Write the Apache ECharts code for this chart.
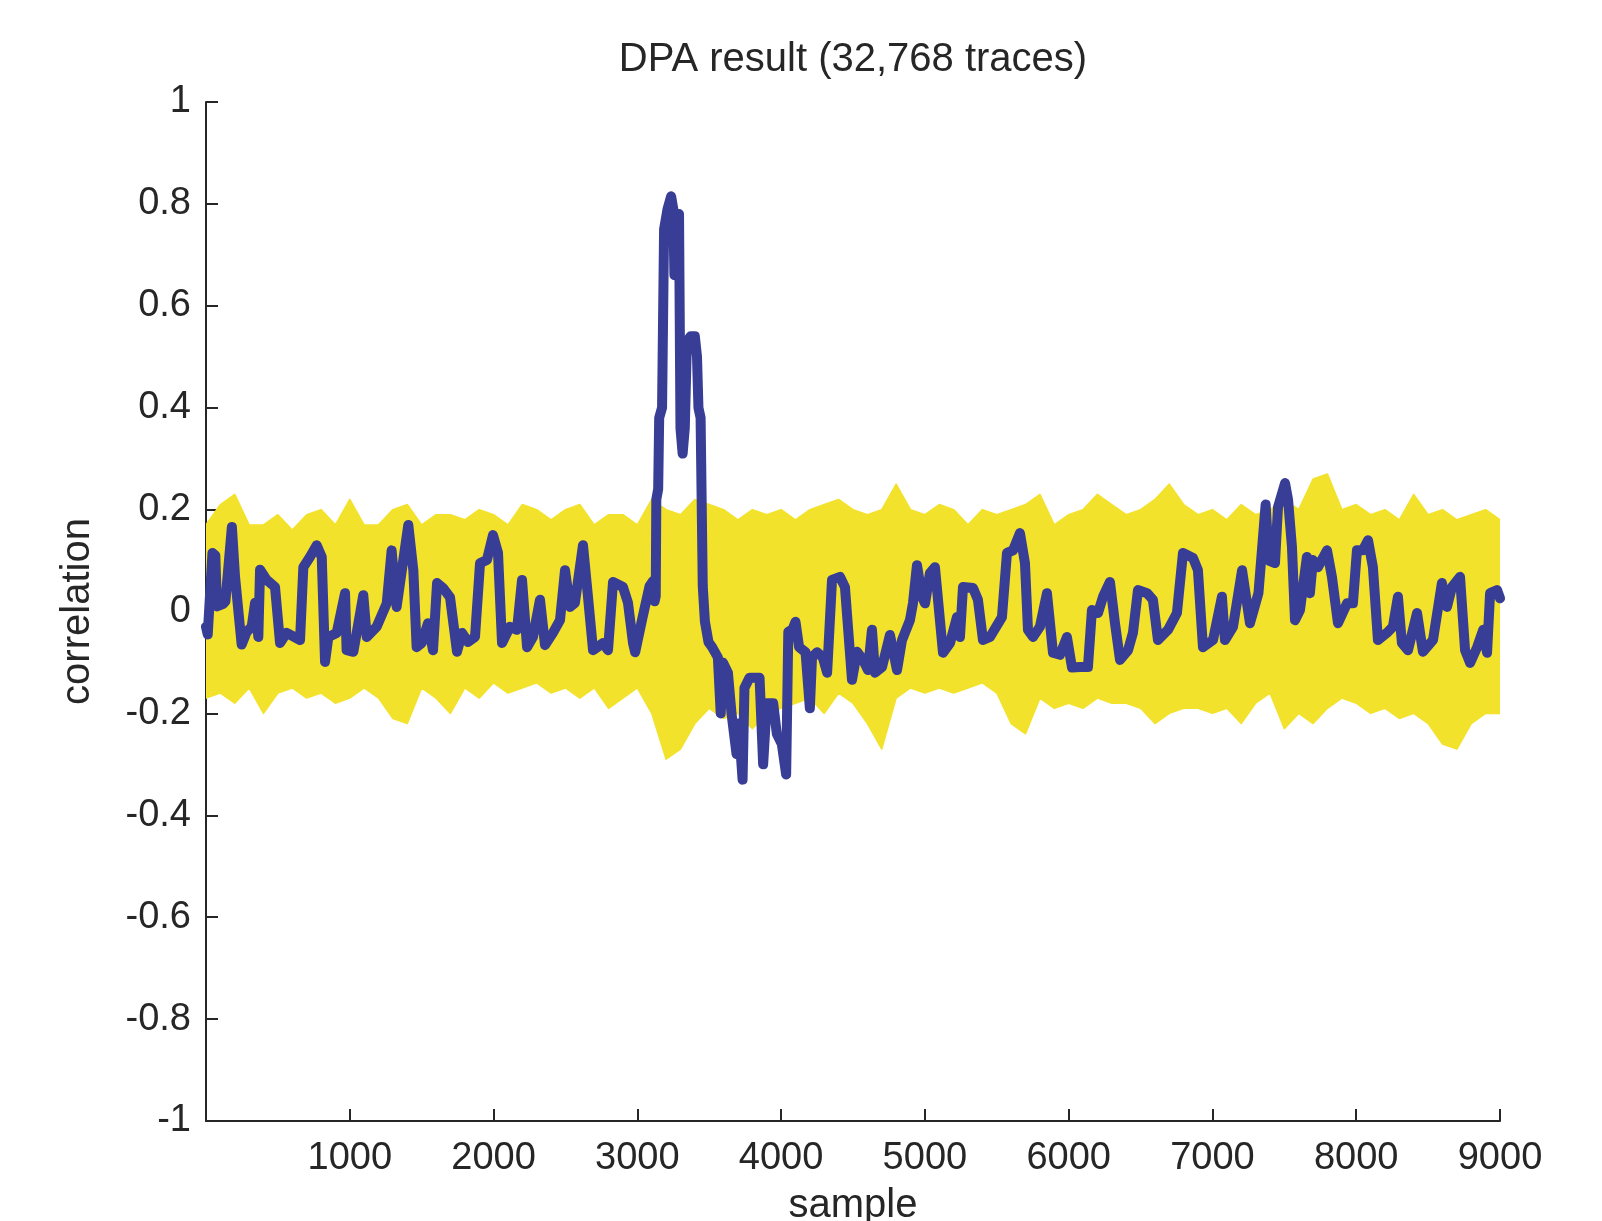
<!DOCTYPE html>
<html lang="en">
<head>
    <meta charset="utf-8">
    <title>DPA result</title>
    <script src="https://cdn.jsdelivr.net/npm/echarts@6/dist/echarts.min.js"></script>
    <style>
        html, body { margin: 0; padding: 0; background: #fff; }
        #chart { width: 1602px; height: 1221px; }
    </style>
</head>
<body>
<div id="chart"></div>
<script>
    // envelope of the yellow (wrong key) traces, read every 100 samples
    var bandSample = [0,100,200,300,400,500,600,700,800,900,1000,1100,1200,1300,1400,1500,1600,1700,1800,1900,
        2000,2100,2200,2300,2400,2500,2600,2700,2800,2900,3000,3100,3200,3300,3400,3500,3600,3700,3800,3900,
        4000,4100,4200,4300,4400,4500,4600,4700,4800,4900,5000,5100,5200,5300,5400,5500,5600,5700,5800,5900,
        6000,6100,6200,6300,6400,6500,6600,6700,6800,6900,7000,7100,7200,7300,7400,7500,7600,7700,7800,7900,
        8000,8100,8200,8300,8400,8500,8600,8700,8800,8900,9000];
    var bandUpper = [0.17,0.21,0.23,0.17,0.17,0.19,0.16,0.19,0.20,0.17,0.22,0.17,0.17,0.20,0.21,0.17,0.19,0.19,0.18,0.20,
        0.19,0.17,0.21,0.20,0.18,0.20,0.21,0.17,0.19,0.19,0.17,0.22,0.20,0.19,0.22,0.21,0.20,0.18,0.20,0.19,
        0.20,0.18,0.20,0.21,0.22,0.20,0.19,0.20,0.25,0.20,0.19,0.21,0.20,0.17,0.20,0.19,0.20,0.21,0.23,0.17,
        0.19,0.20,0.23,0.21,0.19,0.20,0.22,0.25,0.21,0.19,0.20,0.18,0.21,0.19,0.20,0.22,0.20,0.26,0.27,0.20,
        0.21,0.19,0.20,0.18,0.23,0.19,0.20,0.18,0.19,0.20,0.18];
    var bandLower = [-0.17,-0.16,-0.18,-0.15,-0.20,-0.16,-0.15,-0.17,-0.16,-0.18,-0.17,-0.15,-0.17,-0.21,-0.22,-0.15,-0.17,-0.20,-0.15,-0.17,
        -0.14,-0.16,-0.15,-0.14,-0.16,-0.15,-0.17,-0.15,-0.19,-0.17,-0.15,-0.20,-0.29,-0.27,-0.22,-0.19,-0.21,-0.20,-0.23,-0.20,
        -0.19,-0.18,-0.17,-0.20,-0.16,-0.18,-0.22,-0.27,-0.17,-0.15,-0.16,-0.15,-0.16,-0.15,-0.14,-0.16,-0.22,-0.24,-0.17,-0.19,
        -0.18,-0.19,-0.17,-0.18,-0.18,-0.19,-0.22,-0.20,-0.19,-0.19,-0.20,-0.19,-0.22,-0.18,-0.16,-0.23,-0.20,-0.22,-0.19,-0.17,
        -0.18,-0.20,-0.19,-0.21,-0.20,-0.22,-0.26,-0.27,-0.22,-0.20,-0.20];

    // correct key guess (blue)
    var keySample = [0,12,45,65,76,120,135,180,202,248,283,318,341,364,376,422,480,515,561,654,677,723,770,805,828,851,909,967,978,
        1025,1094,1118,1187,1257,1291,1326,1407,1442,1465,1500,1544,1579,1607,1649,1697,1746,1781,1822,1871,1906,1954,1996,
        2031,2059,2114,2163,2198,2233,2274,2323,2358,2413,2462,2497,2532,2566,2622,2657,2692,2761,2796,2831,2900,2935,2970,2985,
        3032,3085,3110,3120,3128,3132,3145,3152,3172,3186,3210,3235,3250,3258,3270,3290,3300,3315,3330,3345,3370,3400,3415,3425,
        3440,3455,3470,3495,3520,3560,3580,3595,3630,3655,3690,3705,3732,3745,3780,3850,3875,3900,3945,3970,4005,4035,4050,4080,
        4100,4125,4170,4200,4215,4250,4290,4320,4354,4410,4444,4493,4528,4570,4604,4632,4653,4702,4757,4806,4841,4896,4917,4945,
        4980,5001,5035,5070,5126,5175,5223,5244,5265,5335,5369,5404,5453,5536,5571,5613,5661,5696,5717,5752,5800,5849,5891,5940,
        5988,6023,6079,6134,6162,6204,6239,6287,6322,6357,6413,6447,6482,6545,6586,6621,6691,6753,6795,6865,6899,6934,7004,7066,
        7087,7143,7206,7261,7320,7370,7392,7435,7456,7505,7526,7553,7574,7609,7657,7678,7699,7734,7797,7831,7873,7936,7977,8005,
        8046,8082,8116,8151,8213,8255,8290,8318,8360,8423,8464,8534,8596,8631,8666,8722,8757,8792,8841,8883,8910,8931,8980,9000];
    var keyCorr = [-0.03,-0.045,0.115,0.11,0.01,0.015,0.02,0.166,0.068,-0.065,-0.04,-0.03,0.017,-0.05,0.082,0.062,0.048,-0.062,-0.042,-0.056,0.087,0.107,0.13,0.107,-0.099,-0.05,-0.042,0.036,-0.076,
        -0.079,0.032,-0.05,-0.03,0.016,0.12,0.009,0.17,0.081,-0.07,-0.062,-0.023,-0.076,0.056,0.046,0.028,-0.079,-0.042,-0.06,-0.05,0.095,0.101,0.15,
        0.115,-0.062,-0.03,-0.036,0.062,-0.07,-0.05,0.023,-0.066,-0.042,-0.017,0.081,0.009,0.017,0.13,0.028,-0.076,-0.062,-0.076,0.058,0.048,0.017,-0.062,-0.08,
        -0.017,0.05,0.06,0.02,0.03,0.22,0.24,0.38,0.4,0.75,0.79,0.815,0.79,0.66,0.78,0.78,0.36,0.31,0.36,0.53,0.54,0.54,0.5,0.4,
        0.38,0.05,-0.02,-0.06,-0.07,-0.09,-0.2,-0.1,-0.12,-0.2,-0.28,-0.22,-0.33,-0.15,-0.13,-0.13,-0.3,-0.18,-0.18,-0.24,-0.26,-0.32,-0.04,-0.035,
        -0.02,-0.07,-0.08,-0.19,-0.09,-0.08,-0.09,-0.12,0.062,0.068,0.048,-0.134,-0.079,-0.095,-0.115,-0.036,-0.12,-0.109,-0.046,-0.115,-0.056,-0.017,0.016,0.091,
        0.029,0.016,0.075,0.087,-0.081,-0.062,-0.011,-0.05,0.048,0.046,0.023,-0.056,-0.05,-0.011,0.115,0.12,0.154,0.095,-0.036,-0.05,-0.03,0.036,-0.081,-0.085,
        -0.05,-0.11,-0.109,-0.109,0.003,-0.003,0.029,0.058,-0.023,-0.095,-0.076,-0.042,0.042,0.036,0.023,-0.056,-0.036,-0.003,0.115,0.105,0.081,-0.07,-0.056,0.029,
        -0.056,-0.03,0.081,-0.023,0.036,0.21,0.1,0.095,0.205,0.252,0.219,0.127,-0.017,0.003,0.107,0.036,0.101,0.087,0.12,0.068,-0.023,0.016,0.016,0.12,
        0.12,0.14,0.087,-0.056,-0.042,-0.03,0.029,-0.062,-0.076,-0.003,-0.079,-0.056,0.056,0.009,0.048,0.068,-0.076,-0.101,-0.07,-0.036,-0.081,0.036,0.042,0.026];

    var xTicks = [1000, 2000, 3000, 4000, 5000, 6000, 7000, 8000, 9000];

    var font = 'Liberation Sans, Arial, Helvetica, sans-serif';
    var ink = '#262626';
    var yellow = '#f3e22c';
    var blue = '#383d96';

    var keyData = keySample.map(function (s, i) { return [s, keyCorr[i]]; });

    // yellow band: polygon upper edge forward, lower edge back
    function renderBand(params, api) {
        var pts = [];
        for (var i = 0; i < bandSample.length; i++) {
            pts.push(api.coord([bandSample[i], bandUpper[i]]));
        }
        for (var j = bandSample.length - 1; j >= 0; j--) {
            pts.push(api.coord([bandSample[j], bandLower[j]]));
        }
        return {
            type: 'polygon',
            shape: { points: pts },
            style: { fill: yellow, stroke: yellow, lineWidth: 1.5, lineJoin: 'round' }
        };
    }

    var chart = echarts.init(document.getElementById('chart'));
    chart.setOption({
        animation: false,
        title: {
            text: 'DPA result (32,768 traces)',
            left: 853,
            top: 40,
            padding: 0,
            textAlign: 'center',
            textStyle: { fontFamily: font, fontSize: 40, fontWeight: 'normal', color: ink }
        },
        grid: { left: 206, right: 102, top: 102, bottom: 100, outerBoundsMode: 'none' },
        xAxis: {
            type: 'value',
            min: 0,
            max: 9000,
            interval: 1000,
            name: 'sample',
            nameLocation: 'middle',
            nameGap: 65,
            nameTextStyle: { fontFamily: font, fontSize: 40, color: ink },
            axisLine: { onZero: false, lineStyle: { color: ink, width: 2 } },
            axisTick: { inside: true, length: 12, lineStyle: { color: ink, width: 2 } },
            axisLabel: {
                margin: 19,
                fontFamily: font, fontSize: 38, color: ink,
                formatter: function (v) { return xTicks.indexOf(v) >= 0 ? String(v) : ''; }
            },
            splitLine: { show: false }
        },
        yAxis: {
            type: 'value',
            min: -1,
            max: 1,
            interval: 0.2,
            name: 'correlation',
            nameLocation: 'middle',
            nameRotate: 90,
            nameGap: 108,
            nameTextStyle: { fontFamily: font, fontSize: 40, color: ink },
            axisLine: { show: true, onZero: false, lineStyle: { color: ink, width: 2 } },
            axisTick: { show: true, inside: true, length: 12, lineStyle: { color: ink, width: 2 } },
            axisLabel: {
                margin: 15,
                fontFamily: font, fontSize: 38, color: ink,
                formatter: function (v) { return String(Math.round(v * 10) / 10); }
            },
            splitLine: { show: false }
        },
        series: [
            {
                name: 'wrong keys',
                type: 'custom',
                renderItem: renderBand,
                data: [[0, 0]],
                clip: true,
                z: 1
            },
            {
                name: 'correct key',
                type: 'line',
                data: keyData,
                showSymbol: false,
                lineStyle: { color: blue, width: 10, join: 'round', cap: 'round' },
                z: 3
            }
        ]
    });
</script>
</body>
</html>
